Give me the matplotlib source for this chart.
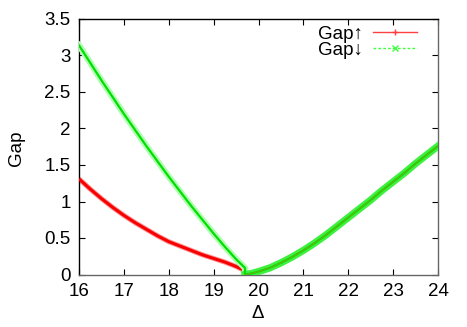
import matplotlib
matplotlib.use("Agg")
import matplotlib.pyplot as plt
from matplotlib.lines import Line2D

plt.rcParams['font.family'] = ['Liberation Sans', 'DejaVu Sans']

# Delta grid (left branch 16..19.7, right branch 19.7..24)
delta = [16.0, 16.25, 16.5, 16.75, 17.0, 17.25, 17.5, 17.75, 18.0, 18.25, 18.5,
         18.75, 19.0, 19.25, 19.5, 19.7,
         19.7, 19.85, 20.0, 20.25, 20.5, 20.75, 21.0, 21.25, 21.5, 21.75, 22.0,
         22.25, 22.5, 22.75, 23.0, 23.25, 23.5, 23.75, 24.0]

gap_up = [1.31, 1.17, 1.04, 0.92, 0.81, 0.71, 0.62, 0.53, 0.45, 0.39, 0.33,
          0.27, 0.22, 0.17, 0.11, 0.05,
          0.0, 0.015, 0.04, 0.09, 0.16, 0.24, 0.33, 0.43, 0.54, 0.66, 0.78,
          0.90, 1.02, 1.15, 1.27, 1.39, 1.52, 1.64, 1.76]

gap_down = [3.14, 2.90, 2.66, 2.43, 2.20, 1.98, 1.76, 1.55, 1.34, 1.14, 0.94,
            0.75, 0.56, 0.38, 0.21, 0.09,
            0.0, 0.015, 0.04, 0.09, 0.16, 0.24, 0.33, 0.43, 0.54, 0.66, 0.78,
            0.90, 1.02, 1.15, 1.27, 1.39, 1.52, 1.64, 1.76]

labels = ['Gap↑', 'Gap↓']
xticks = [16, 17, 18, 19, 20, 21, 22, 23, 24]
yticks = [0, 0.5, 1, 1.5, 2, 2.5, 3, 3.5]
yticklabels = ['0', '0.5', '1', '1.5', '2', '2.5', '3', '3.5']

FS = 13.5
W, H = 467, 327
fig = plt.figure(figsize=(W / 100, H / 100), dpi=100)
L, R, T, B = 79, 438, 19, 274.5
ax = fig.add_axes([L / W, 1 - B / H, (R - L) / W, (B - T) / H])

split = 16  # index where the right branch starts
# red series (Gap up)
ax.plot(delta, gap_up, color='#ff9090', lw=3.6, solid_capstyle='butt', zorder=2)
ax.plot(delta, gap_up, color='#f80000', lw=2.2, solid_capstyle='butt', zorder=3)
# green series (Gap down): halo + core
ax.plot(delta, gap_down, color='#b0ffb0', lw=4.6, zorder=4)
ax.plot(delta[split:], gap_down[split:], color='#40f040', lw=5.2, zorder=4)
ax.plot(delta, gap_down, color='#00e000', lw=1.6, zorder=5)
# red core visible through green on the overlapping branch
ax.plot(delta[split:], gap_up[split:], color='#e08020', lw=0.6, alpha=0.6, zorder=6)

ax.set_xlim(16, 24)
ax.set_ylim(0, 3.5)
ax.set_xticks(xticks)
ax.set_xticklabels([str(v) for v in xticks])
ax.set_yticks(yticks)
ax.set_yticklabels(yticklabels)
ax.tick_params(direction='in', length=4, width=0.8, top=True, right=True,
               labelsize=FS, colors='#000000')
ax.tick_params(axis='y', pad=6)
ax.tick_params(axis='x', pad=6)
for s in ['left', 'top']:
    ax.spines[s].set_color('#000000')
for s in ['bottom', 'right']:
    ax.spines[s].set_color('#666666')
for s in ax.spines.values():
    s.set_linewidth(1.0)

fig.text(16 / W, 1 - 148 / H, 'Gap', rotation=90, ha='center', va='center', fontsize=FS)
fig.text(258 / W, 1 - 314 / H, 'Δ', ha='center', va='center', fontsize=FS)

handles = [Line2D([], [], color='#ff4040', lw=1.0, marker='+', markersize=5,
                  markeredgewidth=1.0),
           Line2D([], [], color='#40ff40', lw=1.0, ls=(0, (2, 1.5)), marker='x',
                  markersize=4, markeredgewidth=1.0)]
leg = ax.legend(handles, labels, loc='upper right', markerfirst=False, frameon=False,
                fontsize=FS, handlelength=2.3, handletextpad=0.55, labelspacing=-0.05,
                borderaxespad=0.0, bbox_to_anchor=((423 - L) / (R - L) + 0.003, 1 + 1 / (B - T)))

fig.savefig('out.png', dpi=100)
